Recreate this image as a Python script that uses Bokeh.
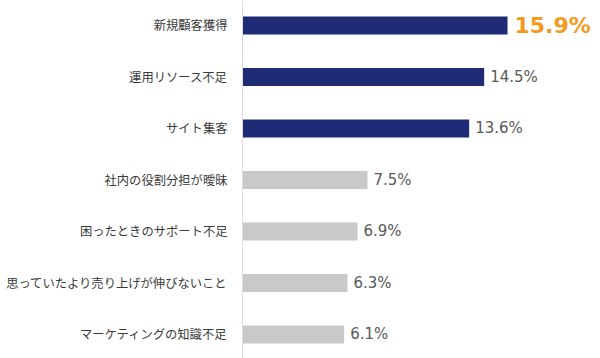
from bokeh.plotting import figure
from bokeh.models import ColumnDataSource, Range1d, FixedTicker, LabelSet
from bokeh.core.properties import value
from bokeh.embed import file_html
from bokeh.resources import INLINE

categories = ["新規顧客獲得", "運用リソース不足", "サイト集客", "社内の役割分担が曖昧",
              "困ったときのサポート不足", "思っていたより売り上げが伸びないこと", "マーケティングの知識不足"]
values = [15.9, 14.5, 13.6, 7.5, 6.9, 6.3, 6.1]
highlight = [True, True, True, False, False, False, False]

NAVY = "#1F2B74"
GRAY = "#C9C9C9"
ORANGE = "#F39A1F"

pos = list(range(len(categories)))
src = ColumnDataSource(dict(
    y=pos, v=values,
    color=[NAVY if h else GRAY for h in highlight],
))
top_src = ColumnDataSource(dict(y=pos[:1], v=values[:1], lab=[f"{values[0]:.1f}%"]))
rest_src = ColumnDataSource(dict(y=pos[1:], v=values[1:], lab=[f"{x:.1f}%" for x in values[1:]]))

p = figure(width=600, height=358, output_backend="svg", toolbar_location=None,
           x_range=Range1d(0, 21.48), y_range=Range1d(6.466, -0.485),
           min_border_left=242, min_border_right=0, min_border_top=0, min_border_bottom=0)
p.outline_line_color = None
p.grid.visible = False
p.xaxis.visible = False
p.background_fill_color = "white"
p.border_fill_color = "white"

p.hbar(y="y", right="v", left=0, height=0.35, color="color", line_color=None, source=src)

yax = p.yaxis[0]
yax.ticker = FixedTicker(ticks=pos)
yax.major_label_overrides = {i: c for i, c in enumerate(categories)}
yax.major_tick_line_color = None
yax.minor_tick_line_color = None
yax.axis_line_color = "#DCDCDC"
yax.axis_line_width = 1
yax.major_label_standoff = 9
yax.major_label_text_font = "Noto Sans CJK JP"
yax.major_label_text_font_size = "12.3px"
yax.major_label_text_color = "#3A3A3A"

p.add_layout(LabelSet(x="v", y="y", text="lab", source=rest_src, x_offset=6,
                      text_font=value("DejaVu Sans"), text_font_size="15px",
                      text_color="#595959", text_baseline="middle", text_align="left"))
p.add_layout(LabelSet(x="v", y="y", text="lab", source=top_src, x_offset=7,
                      text_font=value("DejaVu Sans"), text_font_size="22px", text_font_style="bold",
                      text_color=ORANGE, text_baseline="middle", text_align="left"))

open("out.html", "w").write(file_html(p, INLINE))
